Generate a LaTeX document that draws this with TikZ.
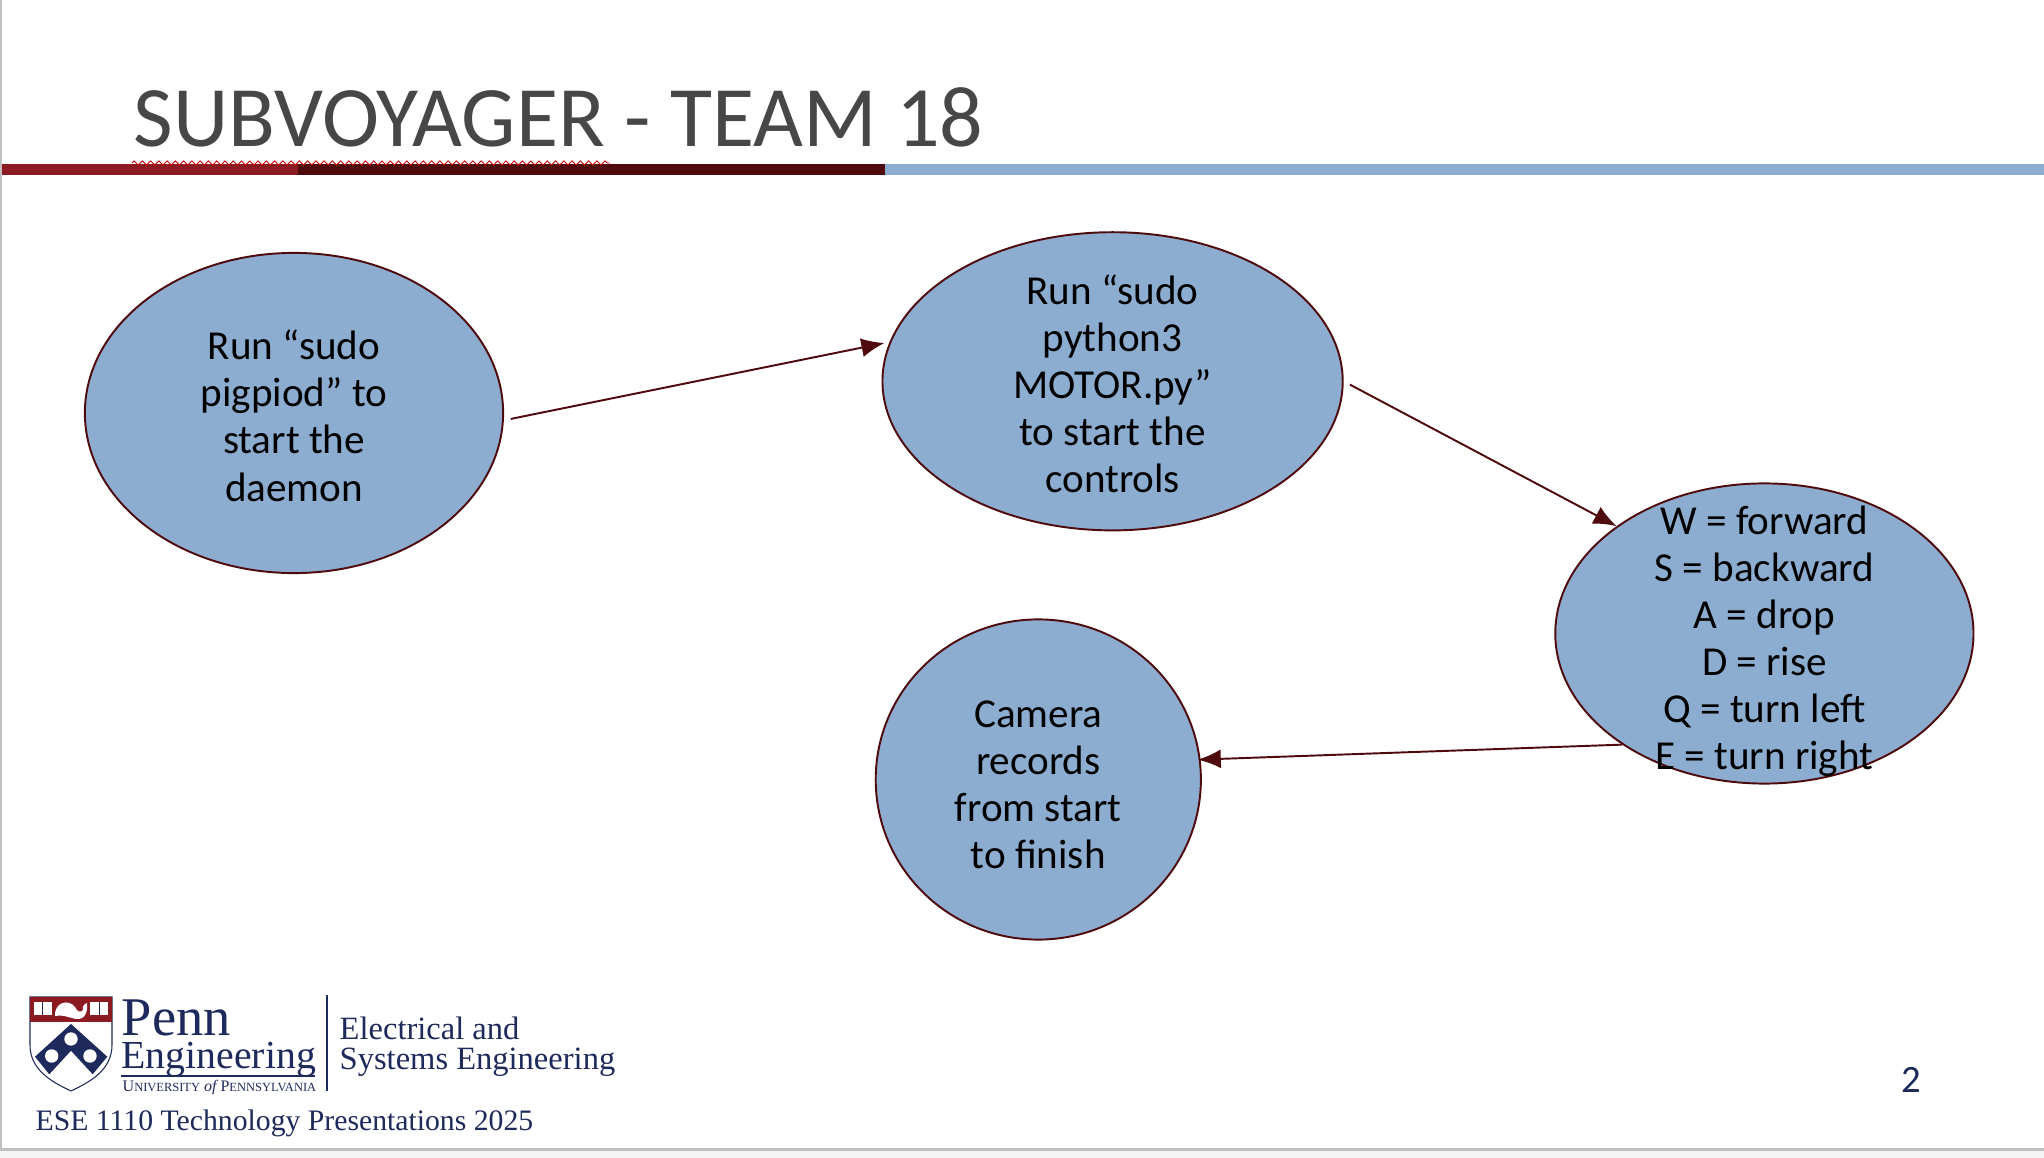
\documentclass[tikz,border=0pt]{standalone}
\usepackage{fontspec}
\setmainfont{Carlito}
\newfontfamily\logofont{Liberation Serif}
\usepackage{xcolor}
\usetikzlibrary{arrows.meta,shapes.geometric,decorations.pathmorphing}
\definecolor{color1}{HTML}{8CADD0}
\definecolor{color2}{HTML}{4F0A0E}
\definecolor{color3}{HTML}{8B1A22}
\definecolor{color4}{HTML}{1F2A5C}
\newcommand{\lift}[1]{\rule{0pt}{#1}}
\begin{document}
\begin{tikzpicture}[
  x=0.01cm,
  y=-0.01cm,
  stepnode/.style={ellipse, draw=color2, fill=color1, line width=0.55pt, inner sep=-1.2cm, align=center, font=\fontsize{11.7}{13.4}\selectfont},
  flow/.style={-{Latex[length=2.3mm,width=1.9mm]}, color=color2, line width=0.55pt},
  logotext/.style={font=\logofont\fontsize{#1}{#1}\selectfont, text=color4, anchor=base west, inner sep=0pt}
]
\useasboundingbox (0,0) rectangle (2044,1158);
\fill[white] (0,0) rectangle (2044,1158);
\fill[black!4] (0,1148) rectangle (2044,1158);
\fill[black!25] (0,0) rectangle (2,1150);
\fill[black!25] (0,1148) rectangle (2044,1151);

% title and rule
\node[font=\fontsize{24.5}{28}\selectfont, text=black!72, anchor=base west, inner sep=0pt] (title) at (133,147) {SUBVOYAGER - TEAM 18};
\fill[color1] (885,164) rectangle (2044,175);
\fill[color3] (2,164) rectangle (298,175);
\fill[color2] (298,164) rectangle (885,175);
\draw[red!80!black, line width=0.25pt, decorate, decoration={zigzag, amplitude=0.6pt, segment length=2.35pt}] (132,163) -- (610,163);

% steps
\node[stepnode, minimum width=4.18cm, minimum height=3.2cm] (pigpiod) at (294,413) {\lift{10pt}Run “sudo\\pigpiod” to\\start the\\daemon};
\node[stepnode, minimum width=4.6cm, minimum height=2.98cm] (motor) at (1112.6,381.3) {\lift{10pt}Run “sudo\\python3\\MOTOR.py”\\to start the\\controls};
\node[stepnode, minimum width=4.18cm, minimum height=3cm] (keys) at (1764.4,633.5) {\lift{12.5pt}W = forward\\S = backward\\A = drop\\D = rise\\Q = turn left\\E = turn right};
\node[stepnode, minimum width=3.25cm, minimum height=3.2cm] (camera) at (1038.3,779.5) {\lift{10.5pt}Camera\\records\\from start\\to finish};
\draw[flow, shorten <=2pt, shorten >=1.5pt] (pigpiod.-2) -- (motor.170);
\draw[flow, shorten <=2pt] (motor.0) -- (keys.144);
\draw[flow, shorten >=-0.8pt] (keys.218) -- (camera.7);

% logo
\fill[white, draw=color4, line width=0.3pt] (30,997) -- (112,997) -- (112,1045) .. controls (112,1070) and (90,1082) .. (71,1091) .. controls (52,1082) and (30,1070) .. (30,1045) -- cycle;
\fill[color3] (30,997) rectangle (112,1022);
\fill[color4] (71,1024) -- (107.3,1056.7) -- (92.7,1074.3) -- (71,1050.7) -- (49.3,1074.3) -- (35,1056.7) -- cycle;
\foreach \cx/\cy in {71/1039, 51.7/1056, 90/1056} {
  \fill[white] (\cx,\cy) circle (6.7);
}
\foreach \bx in {33.5, 90} {
  \fill[white] (\bx,1002) rectangle ++(18,13.5);
  \draw[color4, line width=0.2pt] (\bx+9,1002) -- ++(0,13.5);
}
\fill[white] (55,1016) .. controls (54,1003) and (68,998) .. (75,1007) .. controls (77,1012) and (81,1013) .. (83,1010) .. controls (82,1007) and (84,1004) .. (87,1003) .. controls (88,1012) and (85,1020) .. (76,1019) .. controls (70,1018) and (62,1014) .. cycle;
\node[logotext=15.5] (penn) at (121,1036) {Penn};
\draw[color4, line width=0.3pt] (121,1076) -- (315,1076);
\node[logotext=11.3] (engineering) at (121,1069) {Engineering};
\node[logotext=4.55] (university) at (122,1091) {U{\fontsize{3.55}{4}\selectfont NIVERSITY} {\itshape of} P{\fontsize{3.55}{4}\selectfont ENNSYLVANIA}};
\coordinate (divtop) at (327,995);
\coordinate (divbot) at (327,1091);
\draw[color4, line width=0.3pt] (divtop) -- (divbot);
\node[logotext=9.25] (electrical) at (339,1040) {Electrical and};
\node[logotext=9.25] (systems) at (339,1070) {Systems Engineering};
\node[logotext=8.45] (course) at (35,1130) {ESE 1110 Technology Presentations 2025};
\node[font=\fontsize{11}{13}\selectfont, text=color4, anchor=base, inner sep=0pt] (page) at (1911,1093) {2};
\end{tikzpicture}
\end{document}
